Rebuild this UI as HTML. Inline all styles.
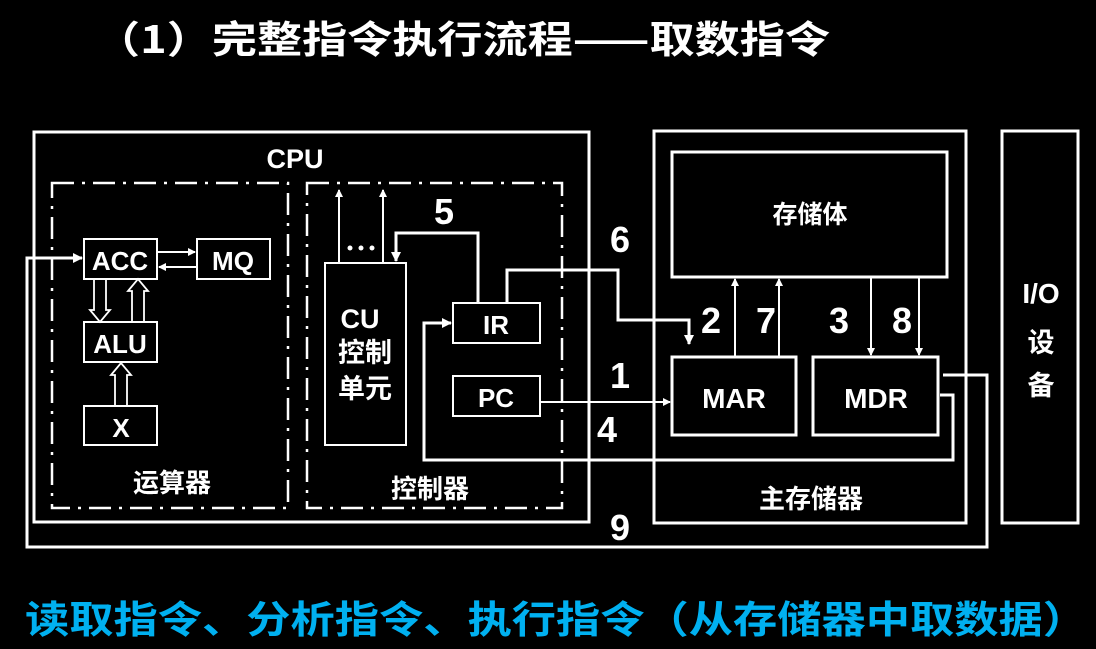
<!DOCTYPE html>
<html><head><meta charset="utf-8"><style>
html,body{margin:0;padding:0;background:#000;}
svg{display:block}
text{font-family:"Liberation Sans","Noto Sans CJK SC",sans-serif;font-weight:bold;fill:#fff;}
.cj{font-family:"Noto Sans CJK SC","Liberation Sans",sans-serif;}
</style></head><body>
<svg width="1096" height="649" viewBox="0 0 1096 649" xmlns="http://www.w3.org/2000/svg">
<defs>
<marker id="a" markerWidth="10" markerHeight="10" refX="9" refY="5" orient="auto" markerUnits="userSpaceOnUse">
<path d="M0,0 L10,5 L0,10 Z" fill="#fff"/></marker>
<marker id="s" markerWidth="8" markerHeight="8" refX="7" refY="4" orient="auto" markerUnits="userSpaceOnUse">
<path d="M0,0 L8,4 L0,8 Z" fill="#fff"/></marker>
</defs>
<rect width="1096" height="649" fill="#000"/>
<text class="cj" x="95" y="53" font-size="38" textLength="735" lengthAdjust="spacingAndGlyphs">（1）完整指令执行流程——取数指令</text>

<g fill="none" stroke="#fff">
<rect x="34" y="132" width="555" height="390" stroke-width="3"/>
<rect x="52" y="183" width="236" height="325" stroke-width="2.5" stroke-dasharray="22,8,3,8"/>
<rect x="307" y="183" width="255" height="325" stroke-width="2.5" stroke-dasharray="22,8,3,8"/>
<rect x="84" y="239" width="73" height="40" stroke-width="2"/>
<rect x="197" y="239" width="73" height="40" stroke-width="2"/>
<rect x="84" y="322" width="73" height="40" stroke-width="2"/>
<rect x="84" y="406" width="73" height="39" stroke-width="2"/>
<rect x="325" y="263" width="81" height="182" stroke-width="2"/>
<rect x="453" y="303" width="87" height="40" stroke-width="2"/>
<rect x="453" y="376" width="87" height="40" stroke-width="2"/>
<rect x="654" y="131" width="312" height="392" stroke-width="3"/>
<rect x="672" y="152" width="275" height="125" stroke-width="3"/>
<rect x="672" y="357" width="124" height="78" stroke-width="3"/>
<rect x="813" y="357" width="125" height="78" stroke-width="3"/>
<rect x="1002" y="131" width="76" height="392" stroke-width="3"/>

<!-- feedback 9 -->
<polyline points="943,375 987,375 987,547 27,547 27,258 82,258" stroke-width="3" marker-end="url(#a)"/>
<!-- 4 -->
<polyline points="940,395 953,395 953,460 424,460 424,323 451,323" stroke-width="3" marker-end="url(#a)"/>
<!-- 1 -->
<line x1="540" y1="402" x2="670" y2="402" stroke-width="2" marker-end="url(#s)"/>
<!-- 6 -->
<polyline points="507,303 507,270 618,270 618,320 689,320 689,344" stroke-width="3" marker-end="url(#a)"/>
<!-- 2,7,3,8 -->
<line x1="735" y1="357" x2="735" y2="279" stroke-width="2" marker-end="url(#s)"/>
<line x1="779" y1="357" x2="779" y2="279" stroke-width="2" marker-end="url(#s)"/>
<line x1="871" y1="277" x2="871" y2="355" stroke-width="2" marker-end="url(#s)"/>
<line x1="919" y1="277" x2="919" y2="355" stroke-width="2" marker-end="url(#s)"/>
<!-- 5 -->
<polyline points="478,303 478,233 396,233 396,261" stroke-width="3" marker-end="url(#a)"/>
<!-- CU up -->
<line x1="339" y1="263" x2="339" y2="190" stroke-width="2" marker-end="url(#s)"/>
<line x1="383" y1="263" x2="383" y2="190" stroke-width="2" marker-end="url(#s)"/>
<!-- ACC MQ -->
<line x1="157" y1="252" x2="195" y2="252" stroke-width="2" marker-end="url(#s)"/>
<line x1="197" y1="267" x2="159" y2="267" stroke-width="2" marker-end="url(#s)"/>
<!-- hollow arrows -->
<path d="M94,279 V310 H90 L100,322 L110,310 H106 V279" stroke-width="1.8"/>
<path d="M132,322 V291 H128 L138,279 L148,291 H144 V322" stroke-width="1.8"/>
<path d="M115,406 V375 H111 L121,363 L131,375 H127 V406" stroke-width="1.8"/>
</g>
<circle cx="350" cy="248" r="2.5" fill="#fff"/><circle cx="361" cy="248" r="2.5" fill="#fff"/><circle cx="372" cy="248" r="2.5" fill="#fff"/>

<text x="295" y="168" font-size="27" text-anchor="middle">CPU</text>
<text x="120" y="270" font-size="26" text-anchor="middle">ACC</text>
<text x="233" y="270" font-size="26" text-anchor="middle">MQ</text>
<text x="120" y="353" font-size="26" text-anchor="middle">ALU</text>
<text x="121" y="437" font-size="26" text-anchor="middle">X</text>
<text x="360" y="328" font-size="27" text-anchor="middle">CU</text>
<text class="cj" x="365" y="362" font-size="27" text-anchor="middle">控制</text>
<text class="cj" x="365" y="398" font-size="27" text-anchor="middle">单元</text>
<text x="496" y="334" font-size="26" text-anchor="middle">IR</text>
<text x="496" y="407" font-size="26" text-anchor="middle">PC</text>
<text class="cj" x="172" y="492" font-size="26" text-anchor="middle">运算器</text>
<text class="cj" x="430" y="498" font-size="26" text-anchor="middle">控制器</text>
<text class="cj" x="810" y="223" font-size="25" text-anchor="middle">存储体</text>
<text x="734" y="408" font-size="28" text-anchor="middle">MAR</text>
<text x="876" y="408" font-size="28" text-anchor="middle">MDR</text>
<text class="cj" x="811" y="508" font-size="26" text-anchor="middle">主存储器</text>
<text x="1041" y="303" font-size="28" text-anchor="middle">I/O</text>
<text class="cj" x="1041" y="352" font-size="27" text-anchor="middle">设</text>
<text class="cj" x="1041" y="395" font-size="27" text-anchor="middle">备</text>

<g font-size="36">
<text x="444" y="224" text-anchor="middle">5</text>
<text x="620" y="252" text-anchor="middle">6</text>
<text x="620" y="388" text-anchor="middle">1</text>
<text x="607" y="442" text-anchor="middle">4</text>
<text x="711" y="333" text-anchor="middle">2</text>
<text x="766" y="333" text-anchor="middle">7</text>
<text x="839" y="333" text-anchor="middle">3</text>
<text x="902" y="333" text-anchor="middle">8</text>
<text x="620" y="540" text-anchor="middle">9</text>
</g>
<text class="cj" x="25" y="633" font-size="38" style="fill:#00b0f0" textLength="1062" lengthAdjust="spacingAndGlyphs">读取指令、分析指令、执行指令（从存储器中取数据）</text>
</svg>
</body></html>
